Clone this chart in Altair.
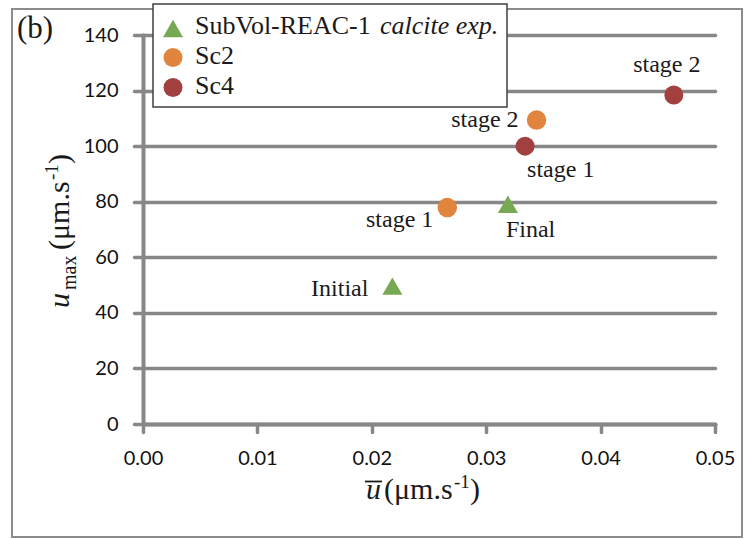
import altair as alt
import pandas as pd

# ---- data ----
series_names = ["SubVol-REAC-1 calcite exp.", "Sc2", "Sc4"]
point_series = ["SubVol-REAC-1 calcite exp.", "SubVol-REAC-1 calcite exp.",
                "Sc2", "Sc2", "Sc4", "Sc4"]
u_mean = [0.0218, 0.0319, 0.0266, 0.0344, 0.0334, 0.0464]
u_max = [49.6, 79.1, 77.9, 109.4, 100.0, 118.4]
point_labels = ["Initial", "Final", "stage 1", "stage 2", "stage 1", "stage 2"]
x_ticks = [0.0, 0.01, 0.02, 0.03, 0.04, 0.05]
y_ticks = [0, 20, 40, 60, 80, 100, 120, 140]

colors = ["#77A853", "#E0843E", "#A2403F"]
shapes = ["triangle-up", "circle", "circle"]
sizes = [400, 361, 361]

df = pd.DataFrame({"idx": list(range(len(u_mean))), "series": point_series,
                   "u_mean": u_mean, "u_max": u_max, "label": point_labels})
one = pd.DataFrame({"k": [0]})

SERIF = "Liberation Serif"
SANS = "Lato"
GRID = "#878787"
W, H = 572, 389

x_scale = alt.Scale(domain=[0, 0.05], nice=False, zero=False)
y_scale = alt.Scale(domain=[0, 140], nice=False)

x_axis = alt.Axis(values=x_ticks, format=".2f", title=None, grid=False,
                  domainColor=GRID, domainWidth=4, domainCap="round",
                  tickColor=GRID, tickWidth=3.5, tickSize=8, tickCap="round",
                  labelFont=SANS, labelFontSize=20, labelColor="#111111",
                  labelPadding=16, labelFlush=False)
y_axis = alt.Axis(values=y_ticks, title=None, grid=True,
                  gridColor=GRID, gridWidth=3.5, gridCap="round",
                  domainColor=GRID, domainWidth=4, domainCap="round",
                  tickColor=GRID, tickWidth=3.5, tickSize=9, tickCap="round",
                  labelFont=SANS, labelFontSize=20, labelColor="#111111",
                  labelPadding=16)

base = alt.Chart(df)

points = base.mark_point(filled=True, opacity=1).encode(
    x=alt.X("u_mean:Q", scale=x_scale, axis=x_axis),
    y=alt.Y("u_max:Q", scale=y_scale, axis=y_axis),
    color=alt.Color("series:N", scale=alt.Scale(domain=series_names, range=colors), legend=None),
    shape=alt.Shape("series:N", scale=alt.Scale(domain=series_names, range=shapes), legend=None),
    size=alt.Size("series:N", scale=alt.Scale(domain=series_names, range=sizes), legend=None),
)

# label offsets (style): dx, dy, align
label_style = [(-24, 10, "right"), (-2, 33, "left"), (-14, 19, "right"),
               (-18, 7, "right"), (2, 31, "left"), (-7, -23, "center")]
label_layers = []
for i, (dx, dy, al) in enumerate(label_style):
    label_layers.append(
        base.transform_filter(alt.datum.idx == i).mark_text(
            font=SERIF, fontSize=24, color="#1a1a1a", align=al,
            baseline="alphabetic", dx=dx, dy=dy
        ).encode(
            x=alt.X("u_mean:Q", scale=x_scale),
            y=alt.Y("u_max:Q", scale=y_scale),
            text="label:N",
        )
    )

deco = alt.Chart(one)

frame = deco.mark_rect(fillOpacity=0, stroke="#8c8c8c", strokeWidth=2).encode(
    x=alt.value(-131), x2=alt.value(599), y=alt.value(-26), y2=alt.value(502))

legend_box = deco.mark_rect(fill="white", stroke="#404040", strokeWidth=1.5).encode(
    x=alt.value(10), x2=alt.value(364), y=alt.value(-31), y2=alt.value(72))


def txt(s, x, y, size, style="normal", angle=0, align="left", font=SERIF):
    kw = dict(font=font, fontSize=size, fontStyle=style, color="#1a1a1a",
              align=align, baseline="alphabetic", text=s)
    if angle:
        kw["angle"] = angle
    return deco.mark_text(**kw).encode(x=alt.value(x), y=alt.value(y))


def sym(shape, size, color, x, y):
    return deco.mark_point(filled=True, opacity=1, shape=shape, size=size,
                           color=color).encode(x=alt.value(x), y=alt.value(y))


legend_layers = [
    legend_box,
    sym(shapes[0], sizes[0], colors[0], 30, -6.5),
    sym(shapes[1], sizes[1], colors[1], 30, 22.5),
    sym(shapes[2], sizes[2], colors[2], 30, 52.5),
    txt("SubVol-REAC-1", 52, -1.5, 26),
    txt("calcite exp.", 237, -1.5, 26, style="italic"),
    txt("Sc2", 52, 28.5, 26),
    txt("Sc4", 52, 58.5, 26),
]

# panel tag
tag = txt("(b)", -126, 3, 31)

# x-axis title: overline-u (um.s^-1)
x_title = [
    txt("u", 223, 464, 30, style="italic"),
    deco.mark_rule(color="#1a1a1a", strokeWidth=1.8).encode(
        x=alt.value(222), x2=alt.value(239), y=alt.value(446.5)),
    txt("(μm.s", 241, 464, 30),
    txt("-1", 311, 453, 19),
    txt(")", 327, 464, 30),
]

# y-axis title: u_max (um.s^-1), rotated
y_title = [
    txt("u", -74, 273, 30, style="italic", angle=270),
    txt("max", -67, 255, 20, angle=270),
    txt("(μm.s", -74, 215, 30, angle=270),
    txt("-1", -85, 145, 19, angle=270),
    txt(")", -74, 129, 30, angle=270),
]

chart = alt.layer(
    frame, points, *label_layers, *legend_layers, tag, *x_title, *y_title
).properties(
    width=W, height=H,
    padding={"left": 143, "top": 35, "right": 29, "bottom": 115},
    autosize=alt.AutoSizeParams(type="none"),
    background="white",
).configure_view(stroke=None)

chart.save("out.html", embed_options={"renderer": "svg", "actions": False})
